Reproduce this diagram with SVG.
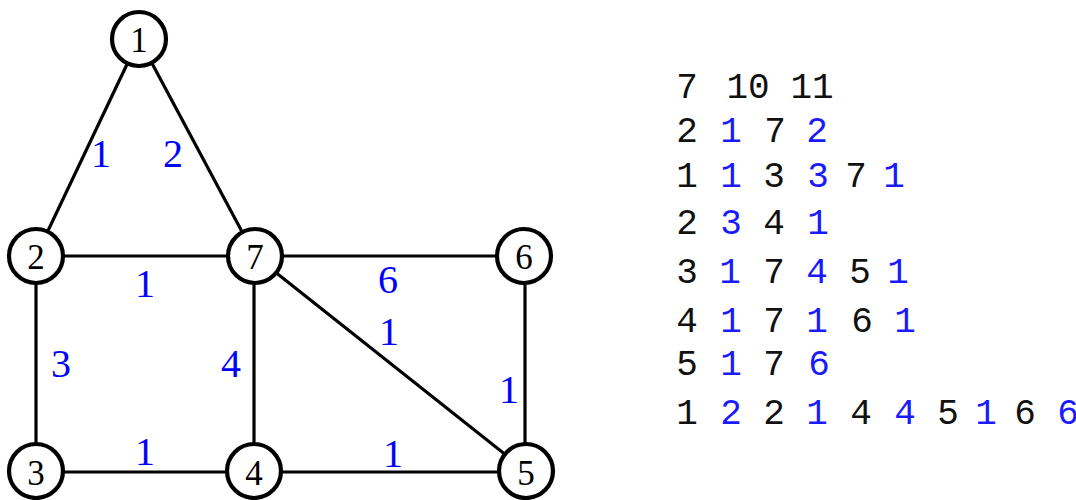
<svg xmlns="http://www.w3.org/2000/svg" width="1076" height="500" viewBox="0 0 1076 500">
<style>
.edge{stroke:#000;stroke-width:3.2;fill:none}
.node circle{fill:#fff;stroke:#000;stroke-width:4.2}
.node text{font-family:"Liberation Serif",serif;font-size:35px;fill:#000;text-anchor:middle}
.w{font-family:"Liberation Serif",serif;font-size:40px;fill:#0000ff;text-anchor:middle}
.m{font-family:"Liberation Mono",monospace;font-size:36px;fill:#111;text-anchor:middle}
.m .b{fill:#1a1aff}
</style>
<rect width="1076" height="500" fill="#fff"/>
<g id="connectors">
<line class="edge" x1="139" y1="39" x2="36" y2="256"/>
<line class="edge" x1="139" y1="39" x2="255" y2="256"/>
<line class="edge" x1="36" y1="256" x2="255" y2="256"/>
<line class="edge" x1="255" y1="256" x2="524" y2="256"/>
<line class="edge" x1="36" y1="256" x2="36" y2="471"/>
<line class="edge" x1="254" y1="256" x2="254" y2="471"/>
<line class="edge" x1="525" y1="256" x2="525" y2="471"/>
<line class="edge" x1="36" y1="472" x2="254" y2="472"/>
<line class="edge" x1="254" y1="472" x2="526" y2="472"/>
<line class="edge" x1="255" y1="256" x2="526" y2="471"/>
</g>
<g id="edge-labels">
<text class="w" x="101" y="167">1</text>
<text class="w" x="173" y="167">2</text>
<text class="w" x="145" y="297">1</text>
<text class="w" x="388" y="293">6</text>
<text class="w" x="389" y="345">1</text>
<text class="w" x="61" y="377">3</text>
<text class="w" x="231" y="377">4</text>
<text class="w" x="509" y="403">1</text>
<text class="w" x="145" y="465">1</text>
<text class="w" x="393" y="467">1</text>
</g>
<g id="node1" class="node"><circle cx="139" cy="39" r="27"/><text x="139" y="52">1</text></g>
<g id="node2" class="node"><circle cx="36" cy="256" r="27"/><text x="36" y="269">2</text></g>
<g id="node7" class="node"><circle cx="255" cy="256" r="27"/><text x="255" y="269">7</text></g>
<g id="node6" class="node"><circle cx="524" cy="256" r="27"/><text x="524" y="269">6</text></g>
<g id="node3" class="node"><circle cx="36" cy="471" r="27"/><text x="36" y="485">3</text></g>
<g id="node4" class="node"><circle cx="254" cy="471" r="27"/><text x="254" y="485">4</text></g>
<g id="node5" class="node"><circle cx="526" cy="471" r="27"/><text x="526" y="485">5</text></g>
<g id="adjacency" class="m">
<text y="98"><tspan x="687">7</tspan><tspan x="748">10</tspan><tspan x="812">11</tspan></text>
<text y="142"><tspan x="687">2</tspan><tspan class="b" x="731">1</tspan><tspan x="775">7</tspan><tspan class="b" x="817">2</tspan></text>
<text y="187"><tspan x="687">1</tspan><tspan class="b" x="731">1</tspan><tspan x="774">3</tspan><tspan class="b" x="818">3</tspan><tspan x="856">7</tspan><tspan class="b" x="894">1</tspan></text>
<text y="234"><tspan x="687">2</tspan><tspan class="b" x="731">3</tspan><tspan x="774">4</tspan><tspan class="b" x="818">1</tspan></text>
<text y="283"><tspan x="687">3</tspan><tspan class="b" x="730">1</tspan><tspan x="774">7</tspan><tspan class="b" x="817">4</tspan><tspan x="860">5</tspan><tspan class="b" x="898">1</tspan></text>
<text y="332"><tspan x="687">4</tspan><tspan class="b" x="731">1</tspan><tspan x="774">7</tspan><tspan class="b" x="817">1</tspan><tspan x="862">6</tspan><tspan class="b" x="905">1</tspan></text>
<text y="375"><tspan x="687">5</tspan><tspan class="b" x="731">1</tspan><tspan x="774">7</tspan><tspan class="b" x="819">6</tspan></text>
<text y="424"><tspan x="687">1</tspan><tspan class="b" x="731">2</tspan><tspan x="774">2</tspan><tspan class="b" x="817">1</tspan><tspan x="861">4</tspan><tspan class="b" x="905">4</tspan><tspan x="948">5</tspan><tspan class="b" x="986">1</tspan><tspan x="1025">6</tspan><tspan class="b" x="1068">6</tspan></text>
</g>
</svg>
